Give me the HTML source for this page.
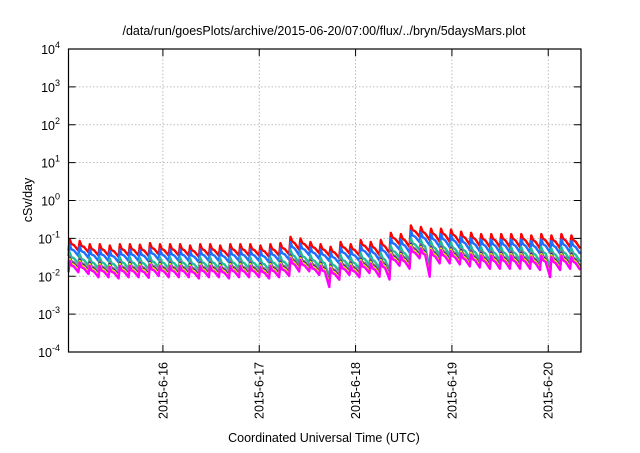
<!DOCTYPE html>
<html><head><meta charset="utf-8"><style>
html,body{margin:0;padding:0;background:#fff}
svg text{font-family:"Liberation Sans",Helvetica,sans-serif;fill:#000}
</style></head><body>
<svg id="chart" width="640" height="448" viewBox="0 0 640 448" xmlns="http://www.w3.org/2000/svg">
<text x="324" y="35" font-size="12.5" text-anchor="middle">/data/run/goesPlots/archive/2015-06-20/07:00/flux/../bryn/5daysMars.plot</text>
<text transform="translate(32,200) rotate(-90)" font-size="12.5" text-anchor="middle">cSv/day</text>
<text x="324" y="442" font-size="12.5" text-anchor="middle">Coordinated Universal Time (UTC)</text>
<g id="grid"></g>
<g id="series"></g>
<g id="axes"></g>
</svg>
<script>
// ---- data ----
const yExponents = [-4,-3,-2,-1,0,1,2,3,4];
const xTickLabels = ["2015-6-16","2015-6-17","2015-6-18","2015-6-19","2015-6-20"];
const xTickDays = [1,2,3,4,5]; // days since 2015-6-15 00:00
const startDay = 0.02, endDay = 5.34;
const cycleHours = 2.5;
// red series peak value per cycle
const redPeaks = [0.095,0.085,0.07,0.07,0.065,0.07,0.07,0.068,0.075,0.07,
 0.07,0.07,0.065,0.07,0.07,0.065,0.07,0.07,0.07,0.065,
 0.07,0.075,0.11,0.1,0.08,0.07,0.06,0.08,0.07,0.09,
 0.08,0.09,0.14,0.13,0.22,0.2,0.18,0.18,0.17,0.15,
 0.14,0.13,0.13,0.13,0.13,0.13,0.12,0.13,0.12,0.13,0.12,0.11,0.11];
// trough/peak ratio per cycle
const troughRatio = [0.5,0.5,0.5,0.5,0.5,0.5,0.5,0.5,0.5,0.5,
 0.5,0.5,0.5,0.5,0.5,0.5,0.5,0.5,0.5,0.5,
 0.5,0.5,0.45,0.5,0.5,0.5,0.5,0.5,0.5,0.5,
 0.45,0.45,0.5,0.45,0.5,0.45,0.45,0.45,0.45,0.45,
 0.45,0.45,0.45,0.45,0.45,0.45,0.45,0.45,0.45,0.45,0.45,0.45,0.45];
// extra dip for lower channels (multiplier at trough)
const lowDip = [1,1,1,1,1,1,1,1,1,1, 1,1,1,1,1,1,1,1,1,1,
 1,1,1,1,1,0.55,1,1,1,1, 1,0.75,1,1,1,0.4,1,1,1,1,
 1,1,1,1,1,1,1,0.6,1,1,1,1,1];
const seriesNames = ["red","blue","teal","mauve","navy","yellow","magenta"];
const seriesColors = ["#ff0000","#1e6fff","#1fbf9a","#9e6b8e","#2020a0","#e8e000","#ff00ff"];
const seriesScale = [1,0.72,0.45,0.35,0.32,0.3,0.27];

// ---- layout ----
const L=68.5,R=581,T=49,B=352;
const svgNS="http://www.w3.org/2000/svg";
function xs(d){return L+(d-startDay)/(endDay-startDay)*(R-L);}
function ys(v){return T+(4-Math.log10(v))/8*(B-T);}
function mk(tag,attrs,parent){const e=document.createElementNS(svgNS,tag);for(const k in attrs)e.setAttribute(k,attrs[k]);parent.appendChild(e);return e;}
const grid=document.getElementById('grid'),axes=document.getElementById('axes'),ser=document.getElementById('series');

yExponents.forEach(p=>{
  const y=ys(Math.pow(10,p));
  if(p>-4&&p<4){const g=mk('line',{x1:L,x2:R,y1:y,y2:y,stroke:'#aaa','stroke-width':0.8,'stroke-dasharray':'1.5,2'},grid);
  
  }
  [[L,L+7],[R,R-7]].forEach(a=>{const t=mk('line',{x1:a[0],x2:a[1],y1:y,y2:y,stroke:'#000','stroke-width':1},axes);
  
  });
  const tx=mk('text',{x:60,y:y+5,'font-size':12.5,'text-anchor':'end'},axes);
  
  
  tx.textContent='10';
  const sp=mk('tspan',{dy:-6,'font-size':9},tx);sp.textContent=String(p);
});
xTickDays.forEach((d,i)=>{
  const x=xs(d);
  const g=mk('line',{x1:x,x2:x,y1:T,y2:B,stroke:'#aaa','stroke-width':0.8,'stroke-dasharray':'1.5,2'},grid);
  
  
  [[B,B-7],[T,T+7]].forEach(a=>{const t=mk('line',{x1:x,x2:x,y1:a[0],y2:a[1],stroke:'#000','stroke-width':1},axes);
  
  });
  const tx=mk('text',{transform:`translate(${x+4.5},362) rotate(-90)`,'font-size':12.5,'text-anchor':'end'},axes);
  
  
  tx.textContent=xTickLabels[i];
});
const frame=mk('rect',{x:L,y:T,width:R-L,height:B-T,fill:'none',stroke:'#000','stroke-width':1.2},axes);



const cyc=cycleHours/24;
seriesNames.forEach((nm,si)=>{
  let pts=[];
  const sc=seriesScale[si];
  for(let c=0;c<redPeaks.length;c++){
    const t0=startDay+c*cyc;
    if(t0>endDay)break;
    const pk=redPeaks[c]*sc;
    const dip=si>=2?lowDip[c]:1;
    const tr=pk*troughRatio[c]*dip;
    const steps=[[0.0,null],[0.12,pk],[0.3,pk*0.75],[0.55,pk*(0.55+0.45*troughRatio[c])*0.9],[0.99,tr]];
    steps.forEach(s=>{const t=t0+s[0]*cyc;if(t>endDay)return;
      let v=s[1];if(v===null){if(c===0)v=pk*troughRatio[c];else return;}
      pts.push([xs(t),ys(v)]);});
  }
  const p=mk('polyline',{points:pts.map(q=>q[0].toFixed(1)+','+q[1].toFixed(1)).join(' '),fill:'none',stroke:seriesColors[si],'stroke-width':2.4,'stroke-linejoin':'round'},ser);
  
  
});
</script>
</body></html>
